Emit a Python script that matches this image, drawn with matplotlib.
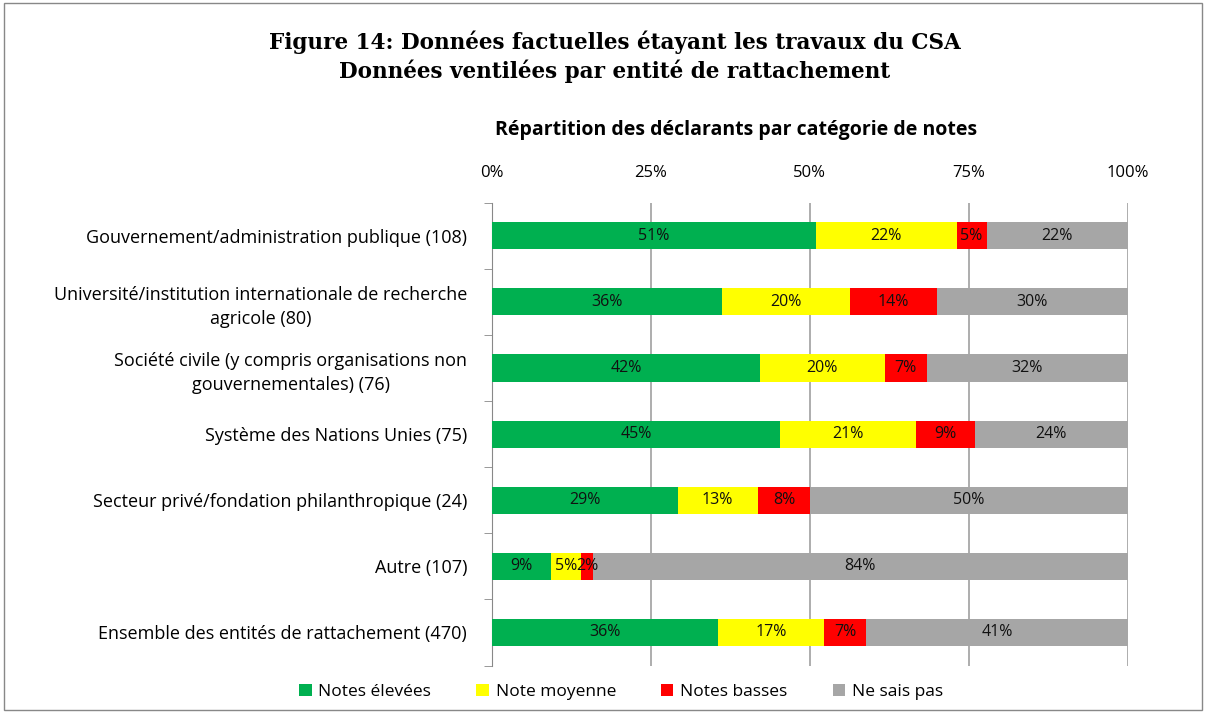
import matplotlib
matplotlib.use("Agg")
import matplotlib.pyplot as plt
from matplotlib.patches import Rectangle
from matplotlib.ticker import FixedLocator

categories = [
    "Gouvernement/administration publique (108)",
    "Université/institution internationale de recherche\nagricole (80)",
    "Société civile (y compris organisations non\ngouvernementales) (76)",
    "Système des Nations Unies (75)",
    "Secteur privé/fondation philanthropique (24)",
    "Autre (107)",
    "Ensemble des entités de rattachement (470)",
]
notes_elevees = [50.9, 36.2, 42.1, 45.3, 29.2, 9.3, 35.5]
note_moyenne = [22.2, 20.1, 19.7, 21.4, 12.6, 4.7, 16.8]
notes_basses = [4.7, 13.7, 6.6, 9.3, 8.3, 1.9, 6.6]
ne_sais_pas = [22.2, 30.0, 31.6, 24.0, 49.9, 84.1, 41.1]
series_names = ["Notes élevées", "Note moyenne", "Notes basses", "Ne sais pas"]
colors = ["#00B050", "#FFFF00", "#FF0000", "#A6A6A6"]
xticks = [0, 25, 50, 75, 100]

plt.rcParams['font.family'] = ['Open Sans', 'DejaVu Sans']

fig = plt.figure(figsize=(12.06, 7.13), dpi=100)
fig.patches.append(Rectangle((0.003, 0.004), 0.994, 0.992, transform=fig.transFigure,
                             fill=False, edgecolor="#888888", linewidth=1.0))
ax = fig.add_axes([0.408, 0.0666, 0.527, 0.649])

series = [notes_elevees, note_moyenne, notes_basses, ne_sais_pas]
n = len(categories)
ys = list(range(n))
left = [0.0] * n
for vals, name, col in zip(series, series_names, colors):
    ax.barh(ys, vals, left=left, height=0.41, color=col, label=name, zorder=3)
    for y, v, l in zip(ys, vals, left):
        ax.text(l + v / 2, y, f"{v:.0f}%", ha="center", va="center",
                fontsize=11.5, color="#111111", zorder=4)
    left = [a + b for a, b in zip(left, vals)]

ax.set_xlim(0, 100)
ax.set_ylim(n - 0.5, -0.5)
ax.xaxis.tick_top()
ax.set_xticks(xticks)
ax.set_xticklabels([f"{t}%" for t in xticks], fontsize=12)
ax.tick_params(axis="x", length=0, pad=16)
ax.set_yticks(ys)
ax.set_yticklabels(categories, fontsize=13, multialignment="center", linespacing=1.45)
ax.tick_params(axis="y", length=0, pad=18)
ax.yaxis.set_minor_locator(FixedLocator([i - 0.5 for i in range(n + 1)]))
ax.tick_params(axis="y", which="minor", length=6, color="#888888")
ax.grid(axis="x", color="#A0A0A0", linewidth=1.2, zorder=0)
for s in ["top", "right", "bottom"]:
    ax.spines[s].set_visible(False)
ax.spines["left"].set_color("#888888")

fig.text(0.51, 0.92, "Figure 14: Données factuelles étayant les travaux du CSA\nDonnées ventilées par entité de rattachement",
         ha="center", va="center", fontsize=15.5, fontweight="bold",
         family=["DejaVu Serif"], linespacing=1.3)
fig.text(0.61, 0.818, "Répartition des déclarants par catégorie de notes",
         ha="center", va="center", fontsize=14, fontweight="bold")

fig.legend(loc="center", bbox_to_anchor=(0.515, 0.029), ncol=4, frameon=False,
           fontsize=12.5, handlelength=0.7, handleheight=0.7, handletextpad=0.4,
           columnspacing=2.6)

fig.savefig("out.png", dpi=100)
